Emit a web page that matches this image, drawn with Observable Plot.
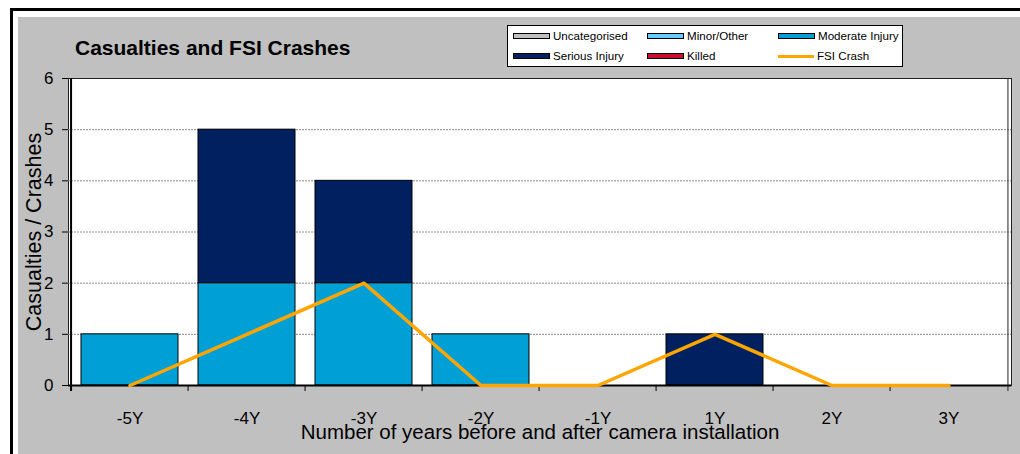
<!DOCTYPE html>
<html>
<head>
<meta charset="utf-8">
<script src="https://cdn.jsdelivr.net/npm/d3@7"></script>
<script src="https://cdn.jsdelivr.net/npm/@observablehq/plot@0.6"></script>
<style>
  html, body { margin: 0; padding: 0; background: #fff; }
  #wrap { position: relative; width: 1020px; height: 454px; overflow: hidden; background: #fff; font-family: "Liberation Sans", Arial, sans-serif; }
  #topline { position: absolute; left: 10px; top: 8px; width: 1010px; height: 3px; background: #000; }
  #leftline { position: absolute; left: 10px; top: 8px; width: 3px; height: 446px; background: #000; }
  #gray { position: absolute; left: 18px; top: 17px; right: 0; bottom: 0; background: #C0C0C0; }
  #chart { position: absolute; left: 0; top: 0; }
  #title { position: absolute; left: 75px; top: 37px; font-weight: bold; font-size: 21px; line-height: 21px; color: #000; white-space: nowrap; }
  #legend { position: absolute; left: 507px; top: 25px; width: 394px; height: 40px; border: 1px solid #000; background: #fff; }
  .item { position: absolute; display: flex; align-items: center; font-size: 11.6px; line-height: 12px; color: #000; white-space: nowrap; }
  .sw { width: 35px; height: 4px; border: 1px solid #000; margin-right: 3px; box-sizing: content-box; }
  .ln { width: 36px; height: 3px; margin-right: 3px; }
</style>
</head>
<body>
<div id="wrap">
  <div id="topline"></div>
  <div id="leftline"></div>
  <div id="gray"></div>
  <div id="chart"></div>
  <div id="title"></div>
  <div id="legend"></div>
</div>
<script>
// ---- data ----
const years = ["-5Y", "-4Y", "-3Y", "-2Y", "-1Y", "1Y", "2Y", "3Y"];
const uncategorised = [0, 0, 0, 0, 0, 0, 0, 0];
const minorOther    = [0, 0, 0, 0, 0, 0, 0, 0];
const moderateInjury = [1, 2, 2, 1, 0, 0, 0, 0];
const seriousInjury  = [0, 3, 2, 0, 0, 1, 0, 0];
const killed         = [0, 0, 0, 0, 0, 0, 0, 0];
const fsiCrash       = [0, 1, 2, 0, 0, 1, 0, 0];
const seriesNames  = ["Uncategorised", "Minor/Other", "Moderate Injury", "Serious Injury", "Killed"];
const seriesColors = ["#C0C0C0", "#66CCFF", "#009FD6", "#002060", "#C8102E"];
const lineName = "FSI Crash";
const lineColor = "#FFA500";
const yTicks = [0, 1, 2, 3, 4, 5, 6];
const titleText = "Casualties and FSI Crashes";
const xTitle = "Number of years before and after camera installation";
const yTitle = "Casualties / Crashes";

// ---- build tables ----
const seriesValues = [uncategorised, minorOther, moderateInjury, seriousInjury, killed];
const barRows = [];
seriesNames.forEach((s, si) => {
  years.forEach((yr, i) => {
    barRows.push({year: yr, series: s, value: seriesValues[si][i]});
  });
});
const lineRows = years.map((yr, i) => ({year: yr, value: fsiCrash[i]}));

// ---- layout ----
const W = 1020, H = 454;
const mL = 68, mR = 9, mT = 78, mB = 69;
const step = (W - mL - mR) / years.length;
const pxPerUnit = (H - mT - mB) / 6;
const tickDown = -6 / pxPerUnit;

const chart = Plot.plot({
  width: W, height: H,
  marginLeft: mL, marginRight: mR, marginTop: mT, marginBottom: mB,
  style: {background: "transparent", fontFamily: "'Liberation Sans', Arial, sans-serif", fontSize: "17px", color: "#000", overflow: "visible"},
  x: {type: "band", domain: years, paddingInner: 0.17, paddingOuter: 0.085},
  y: {domain: [0, 6]},
  color: {domain: seriesNames, range: seriesColors},
  marks: [
    Plot.frame({fill: "#fff", stroke: "#222", strokeWidth: 1}),
    Plot.ruleY(yTicks.filter(d => d > 0 && d < 6), {stroke: "#8a8a8a", strokeDasharray: "2,1", strokeWidth: 1}),
    Plot.barY(barRows.filter(d => d.value > 0), Plot.stackY({x: "year", y: "value", fill: "series", stroke: "#000", strokeWidth: 1})),
    Plot.ruleY([0], {stroke: "#000", strokeWidth: 2}),
    Plot.ruleX(years, {x: d => d, y1: tickDown, y2: 0, dx: -step / 2, stroke: "#000", strokeWidth: 1}),
    Plot.ruleX([years[0]], {x: d => d, y1: tickDown, y2: 6, dx: -step / 2, stroke: "#000", strokeWidth: 2}),
    Plot.ruleX([years[years.length - 1]], {x: d => d, y1: tickDown, y2: 6, dx: step / 2, stroke: "#222", strokeWidth: 1}),
    Plot.lineY(lineRows, {x: "year", y: "value", stroke: lineColor, strokeWidth: 3.5, strokeLinejoin: "miter"}),
    Plot.axisX({tickSize: 0, tickPadding: 26, label: null, fontSize: 17}),
    Plot.axisY({ticks: yTicks, tickSize: 6, tickPadding: 9, label: null, fontSize: 17, tickFormat: d => String(d)}),
    Plot.text([xTitle], {frameAnchor: "bottom", lineAnchor: "middle", textAnchor: "middle", dy: 47, fontSize: 20.5, fill: "#000"}),
    Plot.text([yTitle], {frameAnchor: "left", lineAnchor: "middle", textAnchor: "middle", dx: -34, rotate: -90, fontSize: 21.5, fill: "#000"})
  ]
});
document.getElementById("chart").appendChild(chart);
d3.select(chart).selectAll("g[aria-label*='tick label'] text").style("font-size", "17px");
document.getElementById("title").textContent = titleText;

// ---- legend ----
const legend = document.getElementById("legend");
const legendPos = [[5, 3], [139, 3], [270, 3], [5, 23], [139, 23], [270, 23]];
const legendItems = seriesNames.map((s, i) => ({name: s, color: seriesColors[i], kind: "bar"}))
  .concat([{name: lineName, color: lineColor, kind: "line"}]);
legendItems.forEach((it, i) => {
  const el = document.createElement("div");
  el.className = "item";
  el.style.left = legendPos[i][0] + "px";
  el.style.top = legendPos[i][1] + "px";
  el.style.height = "14px";
  const sw = document.createElement("div");
  if (it.kind === "bar") { sw.className = "sw"; sw.style.background = it.color; }
  else { sw.className = "ln"; sw.style.background = it.color; }
  el.appendChild(sw);
  const t = document.createElement("span");
  t.textContent = it.name;
  el.appendChild(t);
  legend.appendChild(el);
});
</script>
</body>
</html>
